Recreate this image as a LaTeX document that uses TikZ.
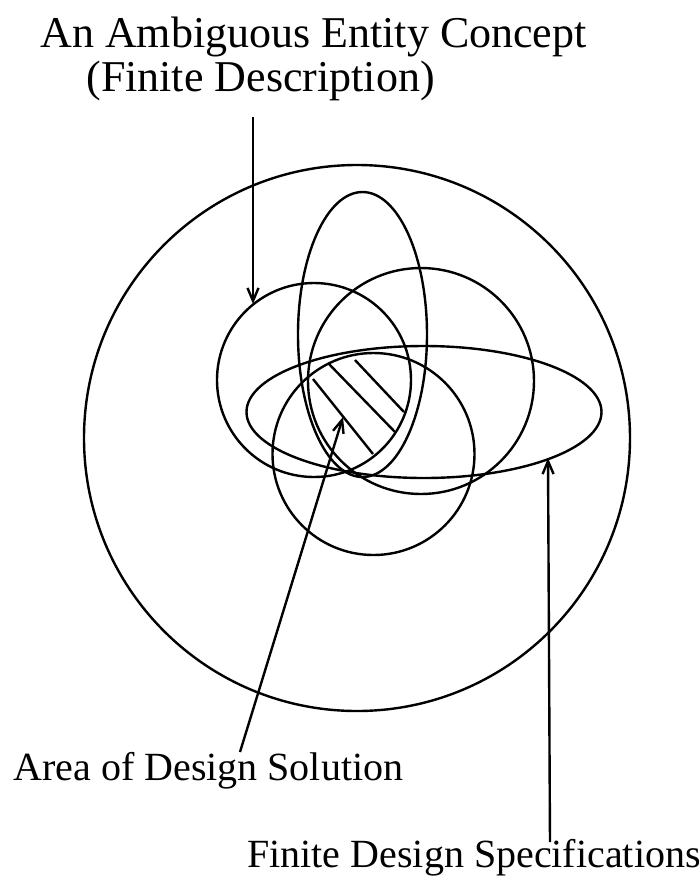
\documentclass[tikz,border=0pt]{standalone}
\usepackage{fontspec}
\setmainfont{Liberation Serif}
\usetikzlibrary{arrows.meta}
\begin{document}
\begin{tikzpicture}[x=0.5pt,y=-0.5pt,
  outline/.style={line width=1.2pt},
  hatch/.style={line width=1.2pt},
  pointer/.style={line width=1.2pt,-{Straight Barb[length=6.5pt,width=5.5pt]}},
  lbl/.style={inner sep=0pt,anchor=base west,font=\fontsize{20}{24}\selectfont},
  ttl/.style={inner sep=0pt,anchor=base west,font=\fontsize{22}{26}\selectfont}]
\useasboundingbox (0,0) rectangle (700,880);
% outer circle
\draw[outline] (357,438) circle[radius=273];
% inner shapes
\draw[outline] (314,380) circle[radius=97];
\draw[outline] (362.5,334.5) ellipse[x radius=64.5,y radius=142.5];
\draw[outline] (421,381) circle[radius=113];
\draw[outline] (373.5,454) circle[radius=101];
\draw[outline] (424,412) ellipse[x radius=177.5,y radius=66];
% hatching
\draw[hatch] (313,379) -- (373,454);
\draw[hatch] (329,364) -- (395,432);
\draw[hatch] (355,360) -- (404,412);
% labels
\node[ttl] (t1) at (40,47) {An Ambiguous Entity Concept};
\node[ttl] (t2) at (86,91) {(Finite Description)};
\node[lbl] (area) at (13,780) {Area of Design Solution};
\node[lbl] (spec) at (247,867) {Finite Design Specifications};
% arrow coordinates
\coordinate (s1) at (253,117);
\coordinate (e1) at (253,304);
\coordinate (s2) at (240,752);
\coordinate (e2) at (343,417);
\coordinate (s3) at (550,842);
\coordinate (e3) at (548,458);
\draw[pointer] (s1) -- (e1);
\draw[pointer] (s2) -- (e2);
\draw[pointer] (s3) -- (e3);
\end{tikzpicture}
\end{document}
